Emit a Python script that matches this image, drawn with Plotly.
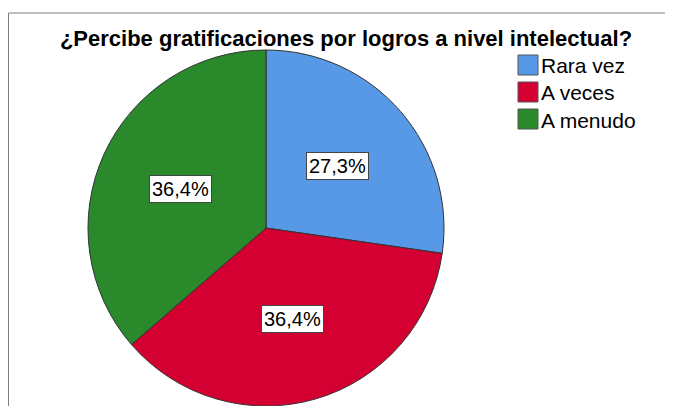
import math

import plotly.graph_objects as go

# the page body has an 8px margin, so the figure sits at (8, 8) in the window
OFF = 8
W, H = 673 - OFF, 406 - OFF

labels = ["Rara vez", "A veces", "A menudo"]
counts = [3, 4, 4]
colors = ["#5799E6", "#D50032", "#29892B"]
title_text = "¿Percibe gratificaciones por logros a nivel intelectual?"


def px_x(x):
    return (x - OFF) / W


def px_y(y):
    return 1 - (y - OFF) / H


# pie placement in window pixels
cx_px, r_px = 266, 178
dom_x = [px_x(cx_px - r_px), px_x(cx_px + r_px)]
dom_y = [0, 2 * r_px / H]
cy_px = OFF + H - r_px

fig = go.Figure(
    go.Pie(
        labels=labels,
        values=counts,
        marker=dict(colors=colors, line=dict(color="#333333", width=1)),
        sort=False,
        direction="clockwise",
        rotation=0,
        textinfo="none",
        showlegend=False,
        domain=dict(x=dom_x, y=dom_y),
    )
)

# percentage labels in white boxes, at mid-angle of each slice
total = sum(counts)
start = 0.0
for lab, v in zip(labels, counts):
    frac = v / total
    mid = (start + frac / 2) * 2 * math.pi
    start += frac
    px = cx_px + 0.53 * r_px * math.sin(mid)
    py = cy_px - 0.53 * r_px * math.cos(mid)
    fig.add_annotation(
        x=px_x(px), y=px_y(py), xref="paper", yref="paper",
        xanchor="center", yanchor="middle",
        text=f"{frac * 100:.1f}%".replace(".", ","),
        showarrow=False,
        font=dict(family="Liberation Sans, Arial", size=20, color="black"),
        bgcolor="white", bordercolor="#444444", borderwidth=1, borderpad=2,
    )

# legend drawn by hand (bigger squares than plotly's pie legend)
for i, (lab, col) in enumerate(zip(labels, colors)):
    yc = 65 + i * 27
    fig.add_shape(
        type="rect", xref="paper", yref="paper",
        x0=px_x(518), x1=px_x(538), y0=px_y(yc + 10), y1=px_y(yc - 10),
        fillcolor=col, line=dict(color="#555555", width=1),
    )
    fig.add_annotation(
        x=px_x(539), y=px_y(yc + 1), xref="paper", yref="paper",
        text=lab, showarrow=False, xanchor="left", yanchor="middle",
        font=dict(family="Liberation Sans, Arial", size=21, color="black"),
    )

# frame lines at the top and left
fig.add_shape(type="line", xref="paper", yref="paper", x0=0.5 / W, x1=0.5 / W, y0=0, y1=px_y(13),
              line=dict(color="#7f7f7f", width=1))
fig.add_shape(type="line", xref="paper", yref="paper", x0=0.5 / W, x1=1, y0=px_y(13), y1=px_y(13),
              line=dict(color="#7f7f7f", width=1))

fig.update_layout(
    width=W,
    height=H,
    margin=dict(l=0, r=0, t=0, b=0),
    paper_bgcolor="white",
    plot_bgcolor="white",
    title=dict(
        text="<b>" + title_text + "</b>",
        x=px_x(346), xanchor="center", y=px_y(38), yanchor="middle",
        font=dict(family="Liberation Sans, Arial", size=22, color="black"),
    ),
)

fig.write_html("out.html", config={"displayModeBar": False})
